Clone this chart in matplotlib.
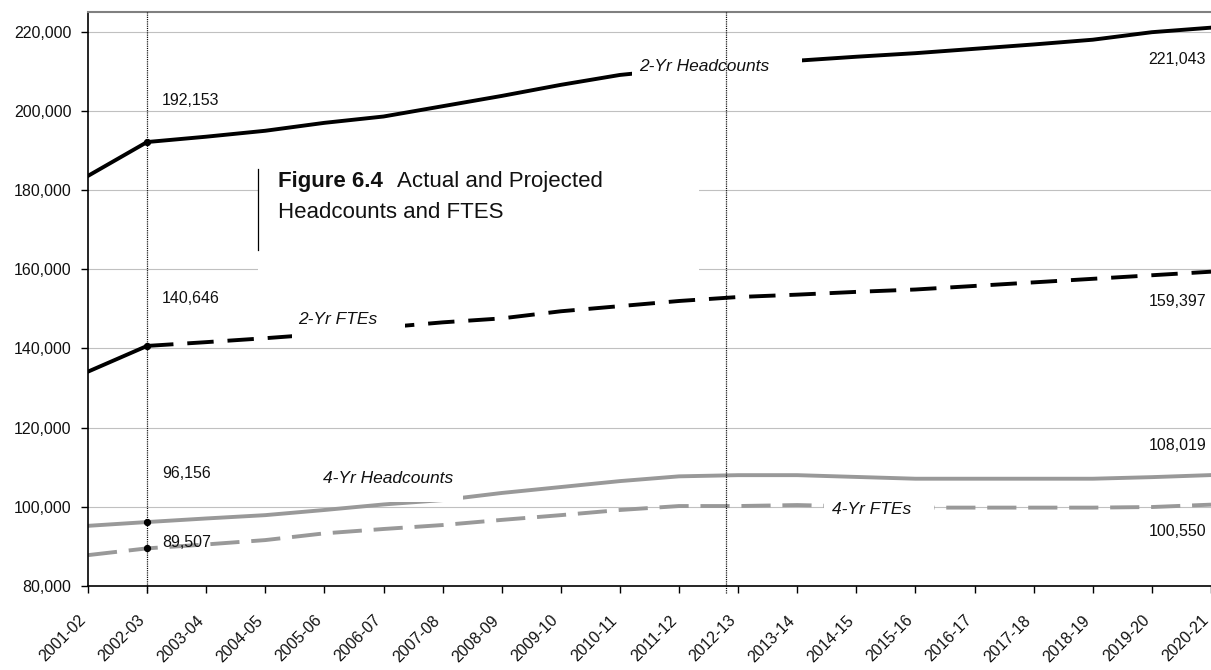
import numpy as np
import matplotlib
matplotlib.use('Agg')
import matplotlib.pyplot as plt
import matplotlib.transforms as mtransforms
from matplotlib.patches import Rectangle
from matplotlib.ticker import FuncFormatter

plt.rcParams['font.family'] = ['Liberation Sans', 'DejaVu Sans']
plt.rcParams['lines.scale_dashes'] = False

# academic years on the category axis
years = ['2001-02', '2002-03', '2003-04', '2004-05', '2005-06', '2006-07',
         '2007-08', '2008-09', '2009-10', '2010-11', '2011-12', '2012-13',
         '2013-14', '2014-15', '2015-16', '2016-17', '2017-18', '2018-19',
         '2019-20', '2020-21']

# actual (2001-03) and projected values
hc2 = [183600, 192153, 193500, 195000, 197000, 198600, 201200, 203800, 206600, 209100,
       210600, 211700, 212700, 213700, 214600, 215700, 216800, 218000, 219900, 221043]
fte2 = [134150, 140646, 141600, 142600, 143700, 145300, 146600, 147600, 149400, 150700,
        152000, 153000, 153600, 154300, 154900, 155800, 156700, 157600, 158500, 159397]
hc4 = [95200, 96156, 97060, 97900, 99200, 100600, 101700, 103500, 105000, 106500,
       107700, 108000, 108000, 107550, 107100, 107100, 107100, 107100, 107500, 108019]
fte4 = [87800, 89507, 90500, 91600, 93300, 94400, 95400, 96700, 97900, 99200,
        100200, 100200, 100450, 100100, 99800, 99800, 99800, 99800, 99950, 100550]

GRAY = '#999999'

fig = plt.figure(figsize=(12.11, 6.70), dpi=100)
ax = fig.add_axes([88 / 1211, 84 / 670, 1123 / 1211, 574 / 670])
x = np.arange(len(years))

ax.plot(x, hc2, color='black', lw=2.8, zorder=2)
ax.plot(x[:2], fte2[:2], color='black', lw=2.8, zorder=2)
ax.plot(x[1:], fte2[1:], color='black', lw=2.8, dashes=(19, 10), zorder=2)
ax.plot(x, hc4, color=GRAY, lw=2.8, zorder=2)
ax.plot(x, fte4, color=GRAY, lw=2.8, dashes=(21, 8.5), zorder=2)

# dots at the last actual year
ax.scatter([1] * 4, [hc2[1], fte2[1], hc4[1], fte4[1]], s=18, color='black', zorder=6)

# dotted reference lines
for xv in (1, 10.8):
    ax.axvline(xv, ymin=-0.012, color='black', lw=0.9, dashes=(0.8, 0.8),
               zorder=5, clip_on=False)

ax.set_xlim(0, 19)
ax.set_ylim(80000, 225000)
ax.set_yticks(range(80000, 220001, 20000))
ax.yaxis.set_major_formatter(FuncFormatter(lambda v, p: f'{int(v):,}'))
ax.grid(axis='y', color='#c0c0c0', lw=0.8)
ax.set_axisbelow(True)

ax.spines['right'].set_visible(False)
ax.spines['top'].set_color('#808080')
ax.spines['top'].set_linewidth(1.5)
for s in ('left', 'bottom'):
    ax.spines[s].set_color('black')
    ax.spines[s].set_linewidth(1.2)

ax.tick_params(axis='both', direction='out', length=5, width=1, color='black',
               labelsize=11.5, labelcolor='#111111')
ax.tick_params(axis='y', pad=7)
ax.tick_params(axis='x', pad=18)
ax.set_xticks(x)
ax.set_xticklabels(years, rotation=45, ha='right', va='center', rotation_mode='anchor')
shift = mtransforms.ScaledTranslation(-5 / 100, 0, fig.dpi_scale_trans)
for lbl in ax.get_xticklabels():
    lbl.set_transform(lbl.get_transform() + shift)

# value labels at start and end of each series
left_off = [(hc2, 30), (fte2, 34.5), (hc4, 35), (fte4, 4.3)]
right_off = [(hc2, -23), (fte2, -21.6), (hc4, 21.6), (fte4, -19.5)]
for ser, dy in left_off:
    ax.annotate(f'{ser[1]:,}', xy=(1, ser[1]), xytext=(10.8, dy), textcoords='offset points',
                ha='left', va='center', fontsize=11.5, color='#111111', zorder=7)
for ser, dy in right_off:
    ax.annotate(f'{ser[-1]:,}', xy=(19, ser[-1]), xytext=(-3.6, dy), textcoords='offset points',
                ha='right', va='center', fontsize=11.5, color='#111111', zorder=7,
                annotation_clip=False)

# series names on white boxes
names = [('2-Yr Headcounts', 9.32, 211150, (9.2, 12.08, 205500, 216500)),
         ('2-Yr FTEs', 3.55, 147200, (3.45, 5.36, 141000, 151500)),
         ('4-Yr Headcounts', 3.98, 107040, (3.89, 6.35, 101200, 113000)),
         ('4-Yr FTEs', 12.59, 99200, (12.45, 14.31, 94500, 104000))]
for txt, tx, ty, (x0, x1, y0, y1) in names:
    ax.add_patch(Rectangle((x0, y0), x1 - x0, y1 - y0, facecolor='white',
                           edgecolor='none', zorder=3))
    ax.text(tx, ty, txt, style='italic', fontsize=12.5, ha='left', va='center',
            color='#111111', zorder=4)

# title block
ax.add_patch(Rectangle((2.88, 156000), 10.34 - 2.88, 190200 - 156000,
                       facecolor='white', edgecolor='none', zorder=1.5))
ax.plot([2.88, 2.88], [164900, 185400], color='black', lw=0.9, zorder=4)
t1 = fig.text(278 / 1211, 1 - 187 / 670, 'Figure 6.4', fontsize=16, fontweight='bold',
              va='baseline', ha='left', color='#111111')
ax.annotate('Actual and Projected', xy=(1, 0), xycoords=t1, xytext=(10, 0),
            textcoords='offset points', va='bottom', ha='left', fontsize=16,
            color='#111111', annotation_clip=False)
fig.text(278 / 1211, 1 - 218 / 670, 'Headcounts and FTES', fontsize=16,
         va='baseline', ha='left', color='#111111')

fig.savefig('out.png', dpi=100)
